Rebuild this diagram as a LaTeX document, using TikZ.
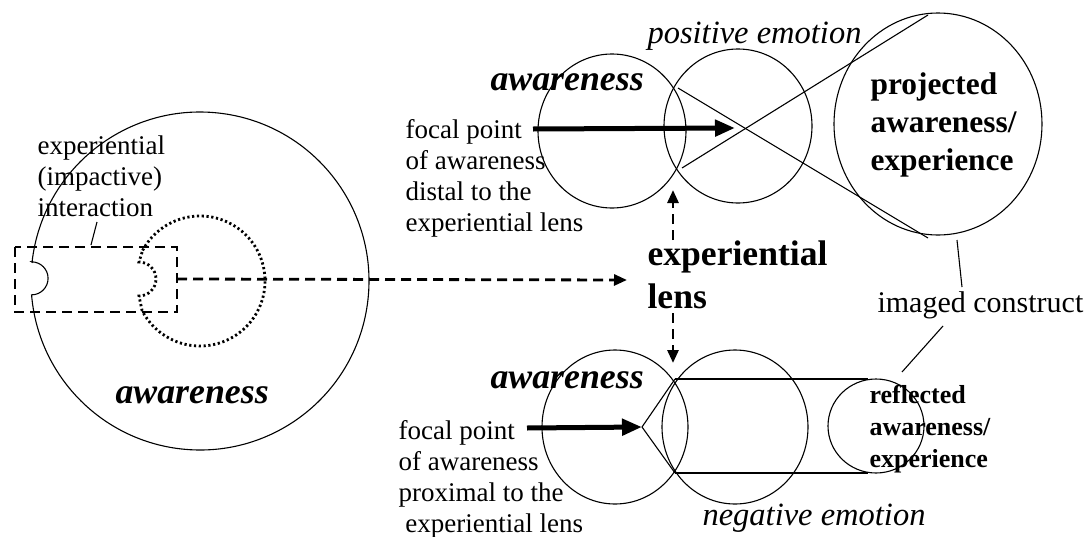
\documentclass[tikz,border=0pt]{standalone}
\usepackage{fontspec}
\setmainfont{Liberation Serif}
\usepackage{tikz}
\usetikzlibrary{arrows.meta}

\newcommand{\bodysize}{\fontsize{13.5}{15.5}\selectfont}
\newcommand{\awaresize}{\fontsize{17.9}{21}\selectfont\bfseries\itshape}
\newcommand{\emosize}{\fontsize{16.25}{19}\selectfont\itshape}
\newcommand{\lenssize}{\fontsize{17.8}{21.5}\selectfont\bfseries}
\newcommand{\projsize}{\fontsize{15.7}{18.8}\selectfont\bfseries}
\newcommand{\reflsize}{\fontsize{13}{16}\selectfont\bfseries}

% multi-line nodes sit on the baseline of their last line
\tikzset{
  txt/.style={anchor=base west, inner sep=0pt, align=left},
  lensdash/.style={line width=1.4pt, dash pattern=on 5pt off 3pt},
  dashtip/.style={lensdash, -{Triangle[length=6.5pt,width=5.5pt]}},
  focalarrow/.style={line width=2.5pt, -{Triangle[length=10pt,width=8pt]}},
  dotline/.style={line width=1.4pt, dash pattern=on 1.1pt off 1.3pt}
}

\begin{document}
\begin{tikzpicture}[x=0.5pt,y=-0.5pt,line width=0.55pt]
        \useasboundingbox (0,0) rectangle (1088,536);

        % left picture: awareness with the lens inside
        \coordinate (O) at (200,281);
        \coordinate (R1) at (15,247);
        \coordinate (R2) at (177,312);
        \coordinate (Rm) at (177,279);
        \coordinate (T) at (91,245);
        \coordinate (Tl) at (97,222);

        \draw (O) ++(186.4:169) arc[start angle=186.4,end angle=535.3,radius=169]
              arc[start angle=90,end angle=-90,radius=16.5] -- cycle;
        \draw[dotline] (O) ++(208:65) arc[start angle=208,end angle=513,radius=65]
              -- (139,296) arc[start angle=90,end angle=-90,radius=17] -- cycle;
        \draw[lensdash] (R1) rectangle (R2);
        \draw (Tl) -- (T);

        \node[txt,font=\bodysize] (inter) at (37,216) {experiential\\(impactive)\\interaction};
        \node[txt,font=\awaresize] (aw0) at (115,403) {awareness};

        % top: distal focal point, projected
        \coordinate (A) at (612,131);
        \coordinate (B) at (738,126);
        \coordinate (P) at (938,124);
        \coordinate (F1) at (533,129);
        \coordinate (X) at (735,128);
        \coordinate (K1) at (678,88);
        \coordinate (K2) at (928,238);
        \coordinate (L1) at (682,168);
        \coordinate (L2) at (928,15);

        \draw (A) ellipse[x radius=74,y radius=77];
        \draw (B) ellipse[x radius=74,y radius=77];
        \draw (P) ellipse[x radius=104,y radius=111];
        \draw (K1) -- (K2);
        \draw (L1) -- (L2);
        \draw[focalarrow] (F1) -- (X);

        \node[txt,font=\awaresize] (aw1) at (490,90) {awareness};
        \node[txt,font=\emosize] (pos) at (647,43) {positive emotion};
        \node[txt,font=\bodysize] (dist) at (405,231) {focal point\\of awareness\\distal to the\\experiential lens};
        \node[txt,font=\projsize] (proj) at (870,170) {projected\\awareness/\\experience};

        % middle: the lens
        \coordinate (Ar0) at (627,280);
        \coordinate (U1) at (673,240);
        \coordinate (U2) at (673,190);
        \coordinate (D1) at (673,313);
        \coordinate (D2) at (673,363);

        \draw[dashtip] (Rm) -- (Ar0);
        \draw[dashtip] (U1) -- (U2);
        \draw[dashtip] (D1) -- (D2);
        \node[txt,font=\lenssize] (lens) at (647,308) {experiential\\lens};

        % bottom: proximal focal point, reflected
        \coordinate (C) at (615,427);
        \coordinate (D) at (735,427);
        \coordinate (E) at (876,426);
        \coordinate (F2) at (527,428);
        \coordinate (V) at (642,427);
        \coordinate (V1) at (675,379);
        \coordinate (V2) at (675,473);
        \coordinate (W1) at (868,379);
        \coordinate (W2) at (868,473);

        \draw (C) ellipse[x radius=73,y radius=77];
        \draw (D) ellipse[x radius=73,y radius=77];
        \draw (E) ellipse[x radius=48,y radius=47];
        \draw (V1) -- (V) -- (V2);
        \draw[line width=1pt] (V1) -- (W1);
        \draw[line width=1pt] (V2) -- (W2);
        \draw[focalarrow] (F2) -- (V);

        \node[txt,font=\awaresize] (aw2) at (490,388) {awareness};
        \node[txt,font=\emosize] (neg) at (702,525) {negative emotion};
        \node[txt,font=\bodysize] (prox) at (398,532) {focal point\\of awareness\\proximal to the\\\hspace*{0.25em}experiential lens};
        \node[txt,font=\reflsize] (refl) at (869,467) {reflected\\awareness/\\experience};

        % imaged construct
        \coordinate (I1) at (957,240);
        \coordinate (I2) at (962,287);
        \coordinate (I3) at (943,326);
        \coordinate (I4) at (902,372);
        \draw (I1) -- (I2);
        \draw (I3) -- (I4);
        \node[txt,font=\fontsize{15}{18}\selectfont] (img) at (877,312) {imaged construct};
\end{tikzpicture}
\end{document}
